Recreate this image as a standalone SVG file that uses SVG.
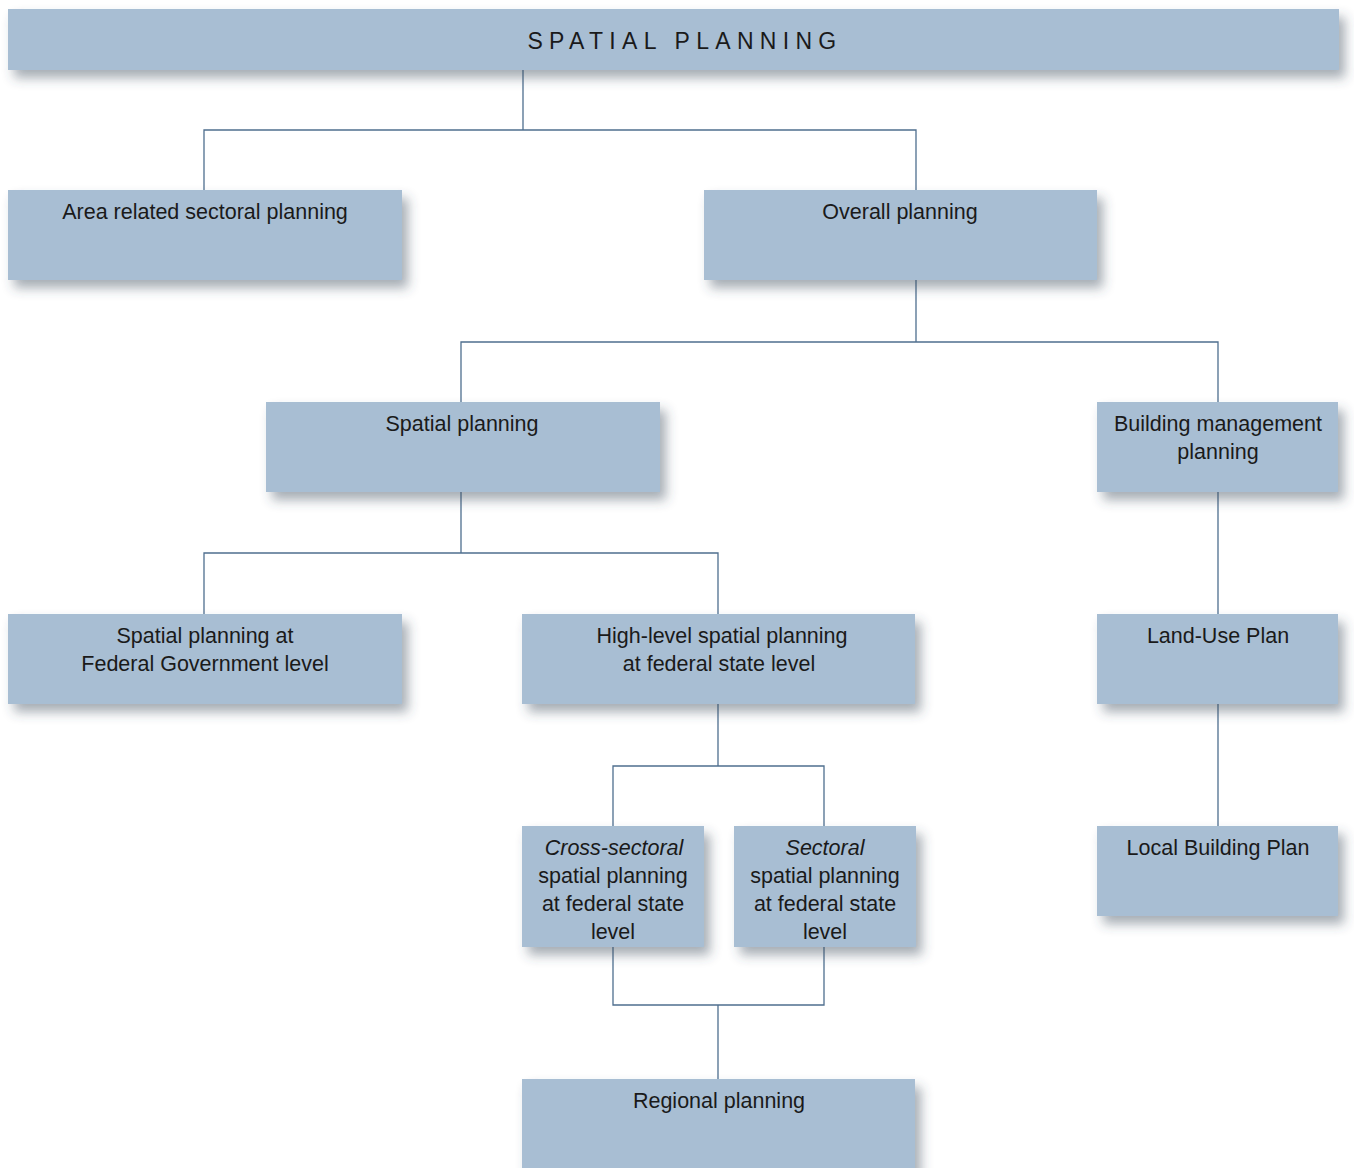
<svg xmlns="http://www.w3.org/2000/svg" width="1354" height="1168" viewBox="0 0 1354 1168">
<defs>
<filter id="sh" x="-10%" y="-30%" width="130%" height="170%">
<feDropShadow dx="6" dy="8" stdDeviation="6" flood-color="#3a4a5a" flood-opacity="0.45"/>
</filter>
</defs>
<style>
.box{fill:#a8bed3;filter:url(#sh)}
.t{font-family:"Liberation Sans","Open Sans",sans-serif;font-size:21.5px;fill:#1a1a1a;text-anchor:middle}
.i{font-style:italic}
.title{font-family:"Liberation Sans","Open Sans",sans-serif;font-size:23px;fill:#1a1a1a;text-anchor:middle;letter-spacing:6.3px}
.c{fill:none;stroke:#4f6f8f;stroke-width:1.3}
</style>
<rect width="1354" height="1168" fill="#ffffff"/>
<g id="connectors">
<path class="c" d="M523 70V130M204 190V130H916V190"/>
<path class="c" d="M916 280V342M461 402V342H1218V402"/>
<path class="c" d="M461 492V553M204 614V553H718V614"/>
<path class="c" d="M1218 492V614M1218 704V826"/>
<path class="c" d="M718 704V766M613 826V766H824V826"/>
<path class="c" d="M613 947V1005H824V947M718 1005V1079"/>
</g>
<g id="n-title"><rect class="box" x="8" y="9" width="1331" height="61"/><text class="title" x="685" y="49">SPATIAL PLANNING</text></g>
<g id="n-area"><rect class="box" x="8" y="190" width="394" height="90"/><text class="t" x="205" y="219">Area related sectoral planning</text></g>
<g id="n-overall"><rect class="box" x="704" y="190" width="393" height="90"/><text class="t" x="900" y="219">Overall planning</text></g>
<g id="n-spatial"><rect class="box" x="266" y="402" width="394" height="90"/><text class="t" x="462" y="431">Spatial planning</text></g>
<g id="n-building"><rect class="box" x="1097" y="402" width="241" height="90"/><text class="t" x="1218" y="431">Building management</text><text class="t" x="1218" y="459">planning</text></g>
<g id="n-federal"><rect class="box" x="8" y="614" width="394" height="90"/><text class="t" x="205" y="643">Spatial planning at</text><text class="t" x="205" y="671">Federal Government level</text></g>
<g id="n-highlevel"><rect class="box" x="522" y="614" width="393" height="90"/><text class="t" x="722" y="643">High-level spatial planning</text><text class="t" x="719" y="671">at federal state level</text></g>
<g id="n-landuse"><rect class="box" x="1097" y="614" width="241" height="90"/><text class="t" x="1218" y="643">Land-Use Plan</text></g>
<g id="n-cross"><rect class="box" x="522" y="826" width="182" height="121"/><text class="t i" x="614" y="855">Cross-sectoral</text><text class="t" x="613" y="883">spatial planning</text><text class="t" x="613" y="911">at federal state</text><text class="t" x="613" y="939">level</text></g>
<g id="n-sectoral"><rect class="box" x="734" y="826" width="182" height="121"/><text class="t i" x="825" y="855">Sectoral</text><text class="t" x="825" y="883">spatial planning</text><text class="t" x="825" y="911">at federal state</text><text class="t" x="825" y="939">level</text></g>
<g id="n-local"><rect class="box" x="1097" y="826" width="241" height="90"/><text class="t" x="1218" y="855">Local Building Plan</text></g>
<g id="n-regional"><rect class="box" x="522" y="1079" width="393" height="100"/><text class="t" x="719" y="1108">Regional planning</text></g>
</svg>
